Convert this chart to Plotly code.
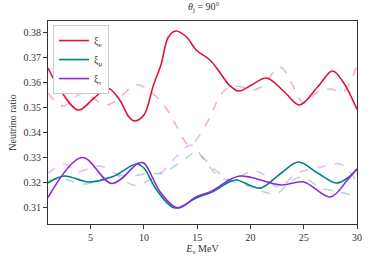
import plotly.graph_objects as go

# --- data ---
e_solid_x = [1, 2.2, 3.85, 5.3, 6.6, 7.7, 8.6, 9.1, 10.0, 10.9, 11.6, 12.3, 13.0, 14.0, 14.9, 16.2, 17.1, 18.0, 18.9, 20.1, 21.5, 23.2, 24.6, 26.3, 27.7, 28.7, 30]
e_solid_y = [0.3656, 0.3565, 0.3488, 0.3535, 0.3576, 0.3530, 0.3460, 0.3444, 0.3468, 0.3588, 0.3668, 0.3780, 0.3804, 0.3780, 0.3728, 0.3688, 0.3640, 0.3588, 0.3564, 0.3588, 0.3616, 0.3560, 0.3508, 0.3580, 0.3644, 0.3600, 0.3490]

e_dash_x = [1, 2.4, 4.3, 6.5, 9.3, 10.0, 11.2, 12.3, 13.0, 14.3, 15.8, 17.2, 18.0, 19.2, 20.1, 21.0, 22.8, 23.8, 25.0, 26.3, 27.5, 28.7, 30]
e_dash_y = [0.3556, 0.3504, 0.3556, 0.3508, 0.3590, 0.3580, 0.3540, 0.3482, 0.3428, 0.3348, 0.3428, 0.3548, 0.3580, 0.3580, 0.3568, 0.3580, 0.3660, 0.3600, 0.3516, 0.3560, 0.3572, 0.3560, 0.3668]

mu_solid_x = [1, 2.5, 4.8, 7.1, 9.3, 10.0, 11.2, 12.9, 14.9, 16.4, 18.0, 18.7, 20.1, 21.0, 22.9, 24.5, 26.3, 28.1, 29.1, 30]
mu_solid_y = [0.3196, 0.3224, 0.3200, 0.3222, 0.3272, 0.3256, 0.3168, 0.3096, 0.3136, 0.3160, 0.3200, 0.3208, 0.3184, 0.3176, 0.3236, 0.3280, 0.3236, 0.3196, 0.3216, 0.3252]

mu_dash_x = [1, 2.2, 4.4, 7.4, 8.7, 10.5, 11.8, 13.7, 14.9, 16.7, 18.0, 20.1, 22.4, 23.7, 24.9, 26.6, 28.4, 30]
mu_dash_y = [0.3204, 0.3214, 0.3192, 0.3228, 0.3224, 0.3234, 0.3236, 0.3288, 0.3316, 0.3248, 0.3208, 0.3180, 0.3152, 0.3200, 0.3220, 0.3176, 0.3160, 0.3140]

tau_solid_x = [1, 4.2, 7.0, 9.5, 10.0, 11.6, 13.2, 14.9, 16.4, 18.0, 19.0, 20.1, 22.9, 25.0, 27.5, 29.1, 30]
tau_solid_y = [0.3138, 0.3298, 0.3194, 0.3276, 0.3276, 0.3156, 0.3096, 0.3140, 0.3164, 0.3208, 0.3224, 0.3218, 0.3188, 0.3200, 0.3140, 0.3208, 0.3252]

tau_dash_x = [1, 2.5, 3.7, 5.9, 9.2, 10.5, 11.8, 13.0, 14.4, 15.8, 17.1, 18.3, 20.1, 21.0, 22.6, 24.4, 26.3, 28.4, 29.4, 30]
tau_dash_y = [0.3234, 0.3272, 0.3242, 0.3264, 0.3186, 0.3208, 0.3244, 0.3300, 0.3348, 0.3280, 0.3220, 0.3208, 0.3244, 0.3236, 0.3180, 0.3236, 0.3256, 0.3272, 0.3236, 0.3200]

y_ticks = [0.31, 0.32, 0.33, 0.34, 0.35, 0.36, 0.37, 0.38]
x_ticks = [5, 10, 15, 20, 25, 30]

FONT = "Liberation Serif"
fig = go.Figure()

def add(x, y, color, name, dash, show):
    fig.add_trace(go.Scatter(
        x=x, y=y, mode="lines", name=name, showlegend=show,
        line=dict(color=color, width=1.6, dash=dash, shape="spline", smoothing=1.0),
    ))

# dashed first (behind)
add(e_dash_x, e_dash_y, "rgba(220,20,60,0.32)", "e dash", "dash", False)
add(mu_dash_x, mu_dash_y, "rgba(0,128,128,0.30)", "mu dash", "dash", False)
add(tau_dash_x, tau_dash_y, "rgba(138,43,226,0.30)", "tau dash", "dash", False)
add(e_solid_x, e_solid_y, "#DC143C", "ξ<sub>e</sub>", "solid", True)
add(mu_solid_x, mu_solid_y, "#008080", "ξ<sub>μ</sub>", "solid", True)
add(tau_solid_x, tau_solid_y, "#8A2BE2", "ξ<sub>τ</sub>", "solid", True)

axis_common = dict(
    showgrid=False, zeroline=False, showline=True, linecolor="#333333", linewidth=1.2,
    mirror=True, ticks="outside", ticklen=4, tickwidth=1, tickcolor="#333333",
    tickfont=dict(family=FONT, size=10, color="#333333"),
)

fig.update_layout(
    width=374, height=264,
    margin=dict(l=47, r=13, t=21, b=39),
    paper_bgcolor="white", plot_bgcolor="white",
    font=dict(family=FONT, size=10, color="#333333"),
    title=dict(text="<i>θ</i><sub>j</sub> = 90°", x=0.545, xanchor="center", y=0.99, yanchor="top",
               font=dict(family=FONT, size=10, color="#333333")),
    xaxis=dict(range=[1, 30], tickvals=x_ticks, title=dict(text="<i>E</i><sub>ν</sub> MeV", standoff=2,
               font=dict(family=FONT, size=10)), **axis_common),
    yaxis=dict(range=[0.3032, 0.3844], tickvals=y_ticks, tickformat=".2f",
               title=dict(text="Neutrino ratio", standoff=4, font=dict(family=FONT, size=10)), **axis_common),
    legend=dict(x=0.016, y=0.98, xanchor="left", yanchor="top", bgcolor="white",
                bordercolor="#cccccc", borderwidth=1, font=dict(family=FONT, size=10),
                itemwidth=30, tracegroupgap=0),
)

fig.write_html("out.html", config={"displayModeBar": False},
               post_script="document.body.style.margin='0';document.body.style.padding='0';")
